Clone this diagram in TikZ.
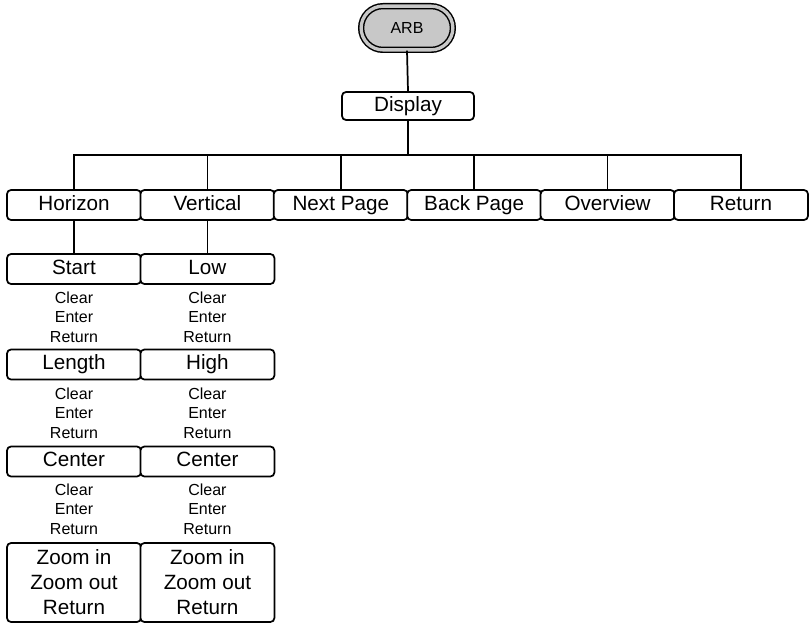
\documentclass[tikz,border=0pt]{standalone}
\usepackage{fontspec}
\setmainfont{Liberation Sans}
\usetikzlibrary{positioning,shapes.misc}
\definecolor{keygray}{RGB}{200,200,200}

\begin{document}
\begin{tikzpicture}[x=0.75pt,y=-0.75pt,line width=1.3pt,
  keybox/.style={draw,rounded corners=3pt,fill=white,minimum width=100.5pt,inner sep=0pt},
  menukey/.style={keybox,minimum height=22.5pt,text height=11.2pt,text depth=3.2pt,font=\fontsize{15.5}{18}\selectfont},
  zoomkey/.style={keybox,minimum height=59.25pt,align=center,font=\fontsize{15.5}{18.75}\selectfont},
  softkeys/.style={align=center,inner sep=0pt,font=\fontsize{12}{14.6}\selectfont}]
\useasboundingbox (0,0) rectangle (809,624);
\node[rounded rectangle,draw,line width=1.1pt,double=keygray,double distance=2.5pt,fill=keygray,minimum width=68.8pt,minimum height=32.8pt,inner sep=0pt,font=\fontsize{12}{14}\selectfont] (arb) at (407,28) {ARB};
\node[menukey,minimum width=99pt,minimum height=21pt] (dsp) at (408,106) {Display};
\coordinate (bus) at (408,155);
% top row of soft keys
\node[menukey] (hor) at (74,205) {Horizon};
\node[menukey] (ver) at (207.4,205) {Vertical};
\node[menukey] (nxt) at (340.8,205) {Next Page};
\node[menukey] (bck) at (474.2,205) {Back Page};
\node[menukey] (ovw) at (607.6,205) {Overview};
\node[menukey] (ret) at (741,205) {Return};
\draw (arb.south)--(dsp.north);
\draw (dsp.south)--(bus);
\draw (hor.north) |- (bus) -| (ret.north);
\draw (ver.north)--(ver.north |- bus);
\draw (nxt.north)--(nxt.north |- bus);
\draw (bck.north)--(bck.north |- bus);
\draw (ovw.north)--(ovw.north |- bus);
% horizon column
\node[menukey] (hstart) at (74,269) {Start};
\node[softkeys] (hstartk) at (74,317) {Clear\\Enter\\Return};
\node[menukey] (hlen) at (74,364.5) {Length};
\node[softkeys] (hlenk) at (74,413) {Clear\\Enter\\Return};
\node[menukey] (hcen) at (74,461.5) {Center};
\node[softkeys] (hcenk) at (74,509) {Clear\\Enter\\Return};
\node[zoomkey] (hzoom) at (74,582.5) {Zoom in\\Zoom out\\Return};
\draw (hor.south)--(hstart.north);
% vertical column
\node[menukey] (vlow) at (207.4,269) {Low};
\node[softkeys] (vlowk) at (207.4,317) {Clear\\Enter\\Return};
\node[menukey] (vhigh) at (207.4,364.5) {High};
\node[softkeys] (vhighk) at (207.4,413) {Clear\\Enter\\Return};
\node[menukey] (vcen) at (207.4,461.5) {Center};
\node[softkeys] (vcenk) at (207.4,509) {Clear\\Enter\\Return};
\node[zoomkey] (vzoom) at (207.4,582.5) {Zoom in\\Zoom out\\Return};
\draw (ver.south)--(vlow.north);
\end{tikzpicture}
\end{document}
